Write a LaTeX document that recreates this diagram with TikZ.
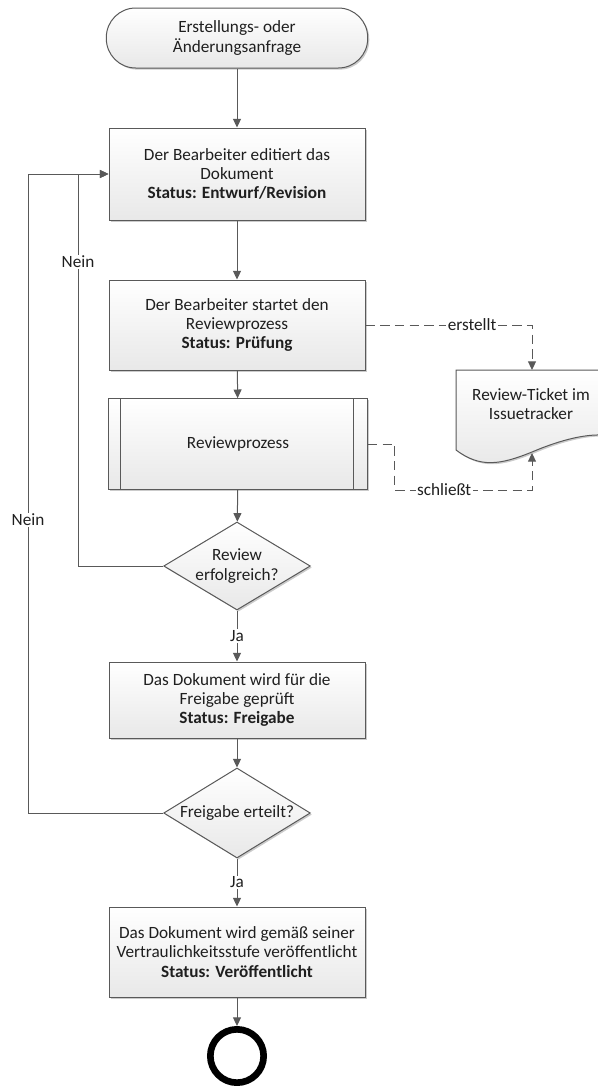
\documentclass[tikz,border=0pt]{standalone}
\usepackage{fontspec}
\setmainfont{Carlito}
\usetikzlibrary{arrows.meta,shapes.geometric,shadows}
\definecolor{linegray}{HTML}{595959}
\definecolor{textgray}{HTML}{1F1F1F}

\tikzset{
  shade/.style={draw=linegray, line width=0.75pt, top color=white, bottom color=black!9,
    drop shadow={shadow xshift=1.2pt, shadow yshift=-1.2pt, fill=black!45, opacity=0.45}},
  proc/.style={shade, rectangle, minimum width=192pt, align=center, inner sep=1pt, text=textgray},
  term/.style={shade, rectangle, rounded corners=22pt, minimum width=196pt, minimum height=45pt,
    align=center, text=textgray},
  decision/.style={shade, diamond, aspect=1.67, minimum width=110pt, minimum height=66pt,
    inner sep=0pt, align=center, text=textgray},
  endstate/.style={circle, draw=black, line width=5pt, minimum size=40pt, inner sep=0pt},
  flow/.style={draw=linegray, line width=0.75pt, -{Triangle[length=6.5pt,width=6pt]}},
  dflow/.style={flow, dash pattern=on 7pt off 4pt},
  lbl/.style={fill=white, inner sep=1pt, text=textgray}
}

\begin{document}
\begin{tikzpicture}[x=0.75pt, y=-0.75pt, font=\fontsize{12.9}{14.4}\selectfont]
\useasboundingbox (0,0) rectangle (597,1086);

% main flow
\node (start) [term] at (237,38) {Erstellungs- oder\\Änderungsanfrage};
\node (edit) [proc, minimum height=69pt] at (237,174)
  {Der Bearbeiter editiert das\\Dokument\\\textbf{Status: Entwurf/Revision}};
\node (submit) [proc, minimum height=67.5pt] at (237,325)
  {Der Bearbeiter startet den\\Reviewprozess\\\textbf{Status: Prüfung}};
\node (review) [proc, minimum width=194pt, minimum height=68pt] at (238,444) {Reviewprozess};
\draw [linegray, line width=0.75pt] ([xshift=9pt]review.north west) -- ([xshift=9pt]review.south west);
\draw [linegray, line width=0.75pt] ([xshift=-11pt]review.north east) -- ([xshift=-11pt]review.south east);
\node (reviewok) [decision] at (237,566) {Review\\erfolgreich?};
\node (release) [proc, minimum height=57pt] at (237,700)
  {Das Dokument wird für die\\Freigabe geprüft\\\textbf{Status: Freigabe}};
\node (granted) [decision, minimum height=67.5pt] at (237,813) {Freigabe erteilt?};
\node (publish) [proc, minimum height=67.5pt] at (237,952)
  {Das Dokument wird gemäß seiner\\Vertraulichkeitsstufe veröffentlicht\\\textbf{Status: Veröffentlicht}};
\node (stop) [endstate] at (237,1056) {};

% ticket document
\path [shade] (456,370) -- (610,370) -- (610,436)
  .. controls (590,432) and (560,440) .. (532,452)
  .. controls (500,465) and (480,468) .. (456,450) -- cycle;
\node (ticket) [align=center, text=textgray] at (531,404) {Review-Ticket im\\Issuetracker};
\coordinate (tickettop) at (532,370);
\coordinate (ticketbot) at (532,453);

% connectors
\draw [flow] (start) -- (edit);
\draw [flow] (edit) -- (submit);
\draw [flow] (submit) -- (review);
\draw [flow] (review) -- (reviewok);
\draw [flow] (reviewok) -- node[lbl] {Ja} (release);
\draw [flow] (release) -- (granted);
\draw [flow] (granted) -- node[lbl] {Ja} (publish);
\draw [flow] (publish) -- (stop);
\draw [flow] (reviewok.west) -- ++(-85,0) |- (edit.west);
\draw [flow] (granted.west) -- ++(-135,0) |- (edit.west);
\node (nein1) [lbl] at (78,262) {Nein};
\node (nein2) [lbl] at (28,520) {Nein};

\draw [dflow] (submit.east) -| node[lbl, pos=0.32] {erstellt} (tickettop);
\draw [dflow] (review.east) -- ++(27,0) -- ++(0,46) -| node[lbl, pos=0.18] {schließt} (ticketbot);
\end{tikzpicture}
\end{document}
